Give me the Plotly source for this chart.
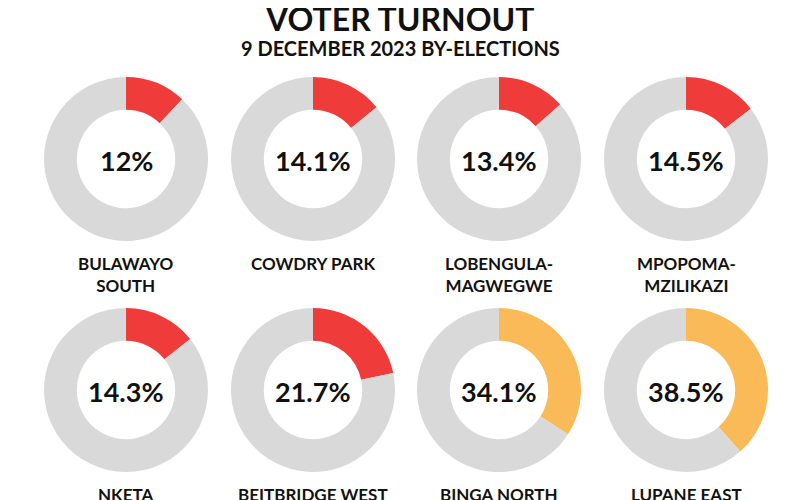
import plotly.graph_objects as go

# ---- data ----
constituencies = [
    "BULAWAYO<br>SOUTH", "COWDRY PARK", "LOBENGULA-<br>MAGWEGWE", "MPOPOMA-<br>MZILIKAZI",
    "NKETA", "BEITBRIDGE WEST", "BINGA NORTH", "LUPANE EAST",
]
turnout = [12, 14.1, 13.4, 14.5, 14.3, 21.7, 34.1, 38.5]

title = "VOTER TURNOUT"
subtitle = "9 DECEMBER 2023 BY-ELECTIONS"

# ---- styles / layout ----
W, H = 800, 500
OFF = 8  # page body margin offset
RED = "#EF3B39"
ORANGE = "#F9BA57"
GREY = "#D9D9D9"
col_x = [126, 313, 499, 686]
row_y = [159, 390]
R = 82

def px(x):
    return (x - OFF) / W

def py(y):
    return 1 - (y - OFF) / H

fig = go.Figure()
annotations = []
for i, (name, v) in enumerate(zip(constituencies, turnout)):
    cx = col_x[i % 4]
    cy = row_y[i // 4]
    accent = ORANGE if v > 30 else RED
    fig.add_trace(go.Pie(
        values=[v, 100 - v],
        labels=["Turnout", "Did not vote"],
        marker=dict(colors=[accent, GREY], line=dict(width=0)),
        hole=0.6,
        sort=False,
        direction="clockwise",
        rotation=0,
        textinfo="none",
        hoverinfo="skip",
        showlegend=False,
        domain=dict(x=[px(cx - R), px(cx + R)], y=[py(cy + R), py(cy - R)]),
    ))
    annotations.append(dict(
        x=px(cx), y=py(cy + 1), xref="paper", yref="paper",
        text=f"{v:g}%", showarrow=False, xanchor="center", yanchor="middle",
        font=dict(family="Lato", size=27, color="#111111", weight="bold"),
    ))
    annotations.append(dict(
        x=px(cx), y=py(cy + 92), xref="paper", yref="paper",
        text=name, showarrow=False, xanchor="center", yanchor="top",
        font=dict(family="Lato", size=17, color="#111111", weight="bold"),
        align="center",
    ))

annotations.append(dict(
    x=px(400), y=py(18), xref="paper", yref="paper", text=title, showarrow=False,
    xanchor="center", yanchor="middle",
    font=dict(family="Lato", size=32, color="#111111", weight="bold"),
))
annotations.append(dict(
    x=px(400), y=py(48), xref="paper", yref="paper", text=subtitle, showarrow=False,
    xanchor="center", yanchor="middle",
    font=dict(family="Lato", size=20, color="#111111", weight="bold"),
))

fig.update_layout(
    width=W, height=H,
    margin=dict(l=0, r=0, t=0, b=0),
    paper_bgcolor="white",
    plot_bgcolor="white",
    annotations=annotations,
)

fig.write_html("out.html")
